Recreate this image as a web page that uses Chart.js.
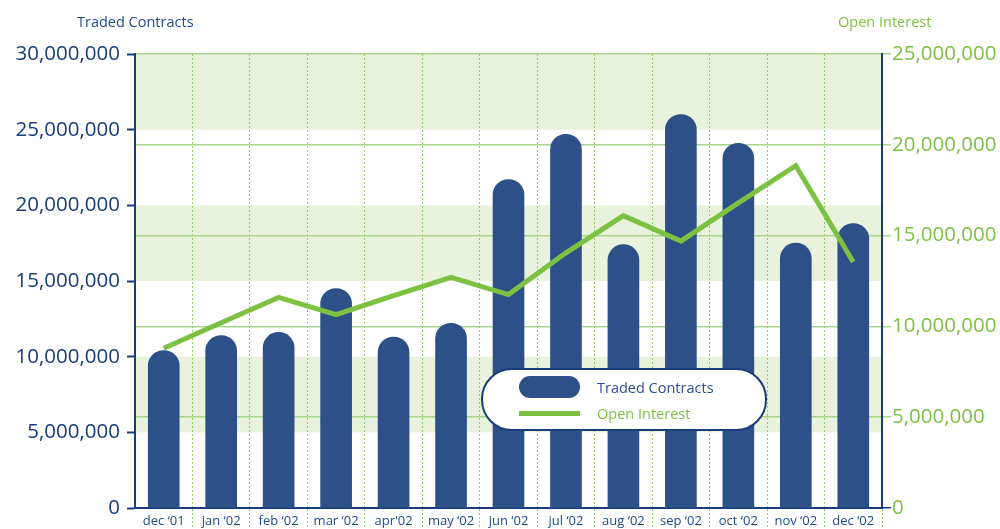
<!DOCTYPE html>
<html>
<head>
<meta charset="utf-8">
<title>Traded Contracts / Open Interest</title>
<script src="https://cdn.jsdelivr.net/npm/chart.js@4.4.0/dist/chart.umd.min.js"></script>
<style>
  body { margin: 0; background: #fff; font-family: "Open Sans", sans-serif; }
  #wrap { position: relative; width: 1000px; height: 529px; }
  .axis-title { position: absolute; top: 12px; font-size: 14.5px; line-height: 20px; white-space: nowrap; }
  #legend {
    position: absolute; left: 481px; top: 368px; width: 282px; height: 59px;
    border: 2px solid #173d7a; border-radius: 31px; background: #fff;
  }
  .legend-row { position: absolute; left: 36px; height: 26px; display: flex; align-items: center; }
  .legend-row span { font-size: 14.5px; margin-left: 17px; white-space: nowrap; }
  .swatch-bar { width: 61px; height: 22px; border-radius: 11px; }
  .swatch-line { width: 61px; height: 5px; }
</style>
</head>
<body>
<div id="wrap">
  <canvas id="chart" width="1000" height="529"></canvas>
  <div class="axis-title" id="leftTitle" style="left:77px;color:#1f4a8a"></div>
  <div class="axis-title" id="rightTitle" style="left:838px;color:#7cc242"></div>
  <div id="legend"></div>
</div>
<script>
const months = ['dec \u201801', 'jan \u201802', 'feb \u201802', 'mar \u201802', 'apr\'02', 'may \u201802',
                'jun \u201802', 'jul \u201802', 'aug \u201802', 'sep \u201802', 'oct \u201802', 'nov \u201802', 'dec \u201802'];
const seriesNames = ['Traded Contracts', 'Open Interest'];

// monthly totals
const tradedContracts = [10400000, 11400000, 11600000, 14500000, 11300000, 12200000,
                         21700000, 24700000, 17400000, 26000000, 24100000, 17500000, 18800000];
const openInterest = [8800000, 10200000, 11600000, 10650000, 11700000, 12700000,
                      11750000, 14050000, 16100000, 14700000, 16800000, 18850000, 13550000];

// axis ranges
const leftMax = 30000000;
const rightMax = 25000000;
const tickStep = 5000000;

const navy = '#173d7a';
const barBlue = '#2d5089';
const green = '#7dc142';
const gridGreen = '#a9d48b';
const dotGreen = '#8fcd60';
const bandFill = '#e8f2dc';

// alternate light green bands between the left axis ticks
const bandPlugin = {
  id: 'bands',
  beforeDraw(chart) {
    const { ctx, chartArea, scales } = chart;
    const ticks = scales.y.ticks;
    ctx.save();
    ctx.fillStyle = bandFill;
    for (let i = 1; i < ticks.length - 1; i += 2) {
      const top = scales.y.getPixelForValue(ticks[i + 1].value);
      const bottom = scales.y.getPixelForValue(ticks[i].value);
      ctx.fillRect(chartArea.left, top, chartArea.right - chartArea.left, bottom - top);
    }
    ctx.restore();
  }
};

const fmt = v => Number(v).toLocaleString('en-US');
const edgeLine = c => (c.index === 0 || c.index === months.length) ? 'rgba(0,0,0,0)' : dotGreen;

const ctx = document.getElementById('chart').getContext('2d');
const chart = new Chart(ctx, {
  data: {
    labels: months,
    datasets: [
      {
        type: 'bar',
        label: seriesNames[0],
        data: tradedContracts,
        backgroundColor: barBlue,
        barThickness: 31,
        borderRadius: { topLeft: 16, topRight: 16, bottomLeft: 0, bottomRight: 0 },
        borderSkipped: 'start',
        yAxisID: 'y',
        order: 1
      },
      {
        type: 'line',
        label: seriesNames[1],
        data: openInterest,
        borderColor: green,
        backgroundColor: green,
        borderWidth: 5,
        pointRadius: 0,
        tension: 0,
        yAxisID: 'y1',
        order: 0
      }
    ]
  },
  options: {
    responsive: false,
    animation: false,
    layout: { padding: { top: 54, left: 0, right: 0, bottom: 0 } },
    plugins: { legend: { display: false }, tooltip: { enabled: false } },
    scales: {
      x: {
        offset: true,
        grid: {
          offset: true,
          color: edgeLine,
          tickColor: edgeLine,
          lineWidth: 1,
          tickLength: 21,
          tickBorderDash: [2, 2]
        },
        border: { color: navy, width: 2, dash: [2, 2] },
        ticks: {
          color: '#1f4a8a',
          font: { family: 'Open Sans', size: 13 },
          padding: -16,
          maxRotation: 0,
          autoSkip: false
        },
        afterFit(scale) { scale.height = 21; }
      },
      y: {
        position: 'left',
        min: 0,
        max: leftMax,
        ticks: {
          stepSize: tickStep,
          color: navy,
          font: { family: 'Open Sans', size: 20.5 },
          padding: 7,
          callback: fmt
        },
        grid: { drawOnChartArea: false, tickLength: 8, tickColor: navy, tickWidth: 2 },
        border: { color: navy, width: 2 },
        afterFit(scale) { scale.width = 135; }
      },
      y1: {
        position: 'right',
        min: 0,
        max: rightMax,
        ticks: {
          stepSize: tickStep,
          color: green,
          font: { family: 'Open Sans', size: 20.5 },
          padding: 1,
          callback: fmt
        },
        grid: {
          color: c => (c.tick && c.tick.value === 0) ? 'rgba(0,0,0,0)' : gridGreen,
          tickColor: c => (c.tick && c.tick.value === 0) ? navy : gridGreen,
          lineWidth: 1.5,
          tickLength: 9
        },
        border: { color: navy, width: 2 },
        afterFit(scale) { scale.width = 118; }
      }
    }
  },
  plugins: [bandPlugin]
});

// axis titles and legend from the dataset labels
document.getElementById('leftTitle').textContent = seriesNames[0];
document.getElementById('rightTitle').textContent = seriesNames[1];

const legend = document.getElementById('legend');
chart.data.datasets.forEach((ds, i) => {
  const row = document.createElement('div');
  row.className = 'legend-row';
  row.style.top = (i === 0 ? 4 : 30) + 'px';
  const sw = document.createElement('div');
  const col = ds.type === 'bar' ? ds.backgroundColor : ds.borderColor;
  sw.className = ds.type === 'bar' ? 'swatch-bar' : 'swatch-line';
  sw.style.background = col;
  const txt = document.createElement('span');
  txt.textContent = ds.label;
  txt.style.color = ds.type === 'bar' ? '#2b4f8c' : green;
  row.appendChild(sw);
  row.appendChild(txt);
  legend.appendChild(row);
});
</script>
</body>
</html>
